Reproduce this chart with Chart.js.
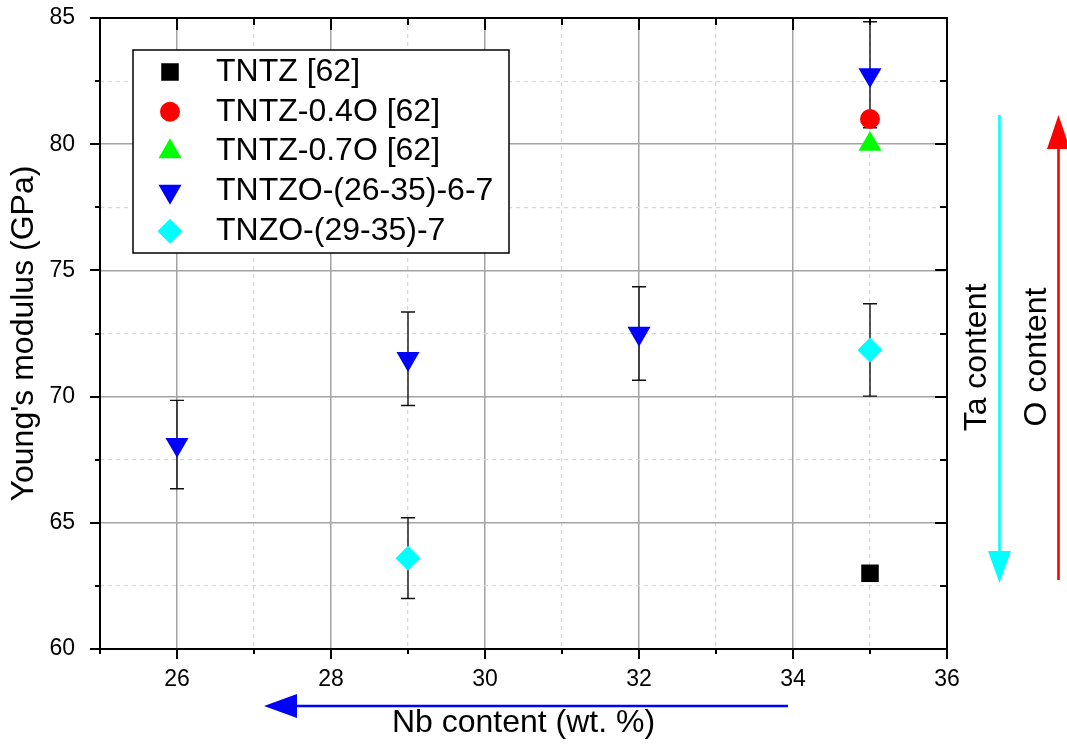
<!DOCTYPE html>
<html>
<head>
<meta charset="utf-8">
<script src="https://cdn.jsdelivr.net/npm/chart.js@4/dist/chart.umd.min.js"></script>
<style>
  html, body { margin: 0; padding: 0; background: #fff; }
  canvas { display: block; }
</style>
</head>
<body>
<canvas id="c" width="1067" height="747"></canvas>
<script>
const FONT = '"Liberation Sans", Arial, Helvetica, sans-serif';

// Axis tick labels
const nbTicks = [26, 28, 30, 32, 34, 36];
const modulusTicks = [60, 65, 70, 75, 80, 85];

// Series (Nb content in wt.%, Young's modulus in GPa, error in GPa)
const seriesNames = ['TNTZ [62]', 'TNTZ-0.4O [62]', 'TNTZ-0.7O [62]', 'TNTZO-(26-35)-6-7', 'TNZO-(29-35)-7'];
const tntzNb = [35];
const tntzE = [63];
const tntz04oNb = [35];
const tntz04oE = [81];
const tntz07oNb = [35];
const tntz07oE = [80];
const tntzoNb = [26, 29, 32, 35];
const tntzoE = [68.1, 71.5, 72.5, 82.75];
const tntzoErr = [1.75, 1.85, 1.85, 2.1];
const tnzoNb = [29, 35];
const tnzoE = [63.6, 71.85];
const tnzoErr = [1.6, 1.83];

const pts = (xs, ys) => xs.map((x, i) => ({ x: x, y: ys[i] }));

function series(label, xs, ys, errs, style, color, radius, rotation) {
  return {
    label: label,
    data: pts(xs, ys),
    errors: errs || null,
    pointStyle: style,
    rotation: rotation || 0,
    pointRadius: radius,
    pointHoverRadius: radius,
    backgroundColor: color,
    borderColor: color,
    borderWidth: 0,
    showLine: false
  };
}

const datasets = [
  series(seriesNames[0], tntzNb, tntzE, null, 'rect', '#000000', 12.4),
  series(seriesNames[1], tntz04oNb, tntz04oE, null, 'circle', '#ff0000', 10),
  series(seriesNames[2], tntz07oNb, tntz07oE, null, 'triangle', '#00ff00', 13.3),
  series(seriesNames[3], tntzoNb, tntzoE, tntzoErr, 'triangle', '#0000ff', 13.3, 180),
  series(seriesNames[4], tnzoNb, tnzoE, tnzoErr, 'rectRot', '#00ffff', 12.5)
];

const isMajor = (scale, v) => scale === 'x' ? nbTicks.includes(v) : modulusTicks.includes(v);

// Error bars drawn beneath the markers
const errorBars = {
  id: 'errorBars',
  beforeDatasetsDraw(chart) {
    const { ctx, scales: { x, y } } = chart;
    ctx.save();
    ctx.strokeStyle = '#111';
    ctx.lineWidth = 1.4;
    chart.data.datasets.forEach(ds => {
      if (!ds.errors) return;
      ds.data.forEach((p, i) => {
        const e = ds.errors[i];
        const px = x.getPixelForValue(p.x);
        const top = y.getPixelForValue(p.y + e);
        const bot = y.getPixelForValue(p.y - e);
        ctx.beginPath();
        ctx.moveTo(px, top); ctx.lineTo(px, bot);
        ctx.moveTo(px - 7, top); ctx.lineTo(px + 7, top);
        ctx.moveTo(px - 7, bot); ctx.lineTo(px + 7, bot);
        ctx.stroke();
      });
    });
    ctx.restore();
  }
};

// Boxed legend inside the plot
const boxLegend = {
  id: 'boxLegend',
  afterDatasetsDraw(chart) {
    const ctx = chart.ctx;
    const left = 133, top = 50, right = 509, bottom = 253;
    ctx.save();
    ctx.fillStyle = '#fff';
    ctx.fillRect(left, top, right - left, bottom - top);
    ctx.strokeStyle = '#000';
    ctx.lineWidth = 1.5;
    ctx.strokeRect(left, top, right - left, bottom - top);
    chart.data.datasets.forEach((ds, i) => {
      const cy = 72 + i * 39.8;
      ctx.fillStyle = ds.backgroundColor;
      ctx.strokeStyle = ds.borderColor;
      Chart.helpers.drawPoint(ctx, {
        pointStyle: ds.pointStyle,
        rotation: ds.rotation,
        radius: ds.pointRadius,
        borderWidth: 0
      }, 170, cy);
      ctx.fillStyle = '#000';
      ctx.font = '32px ' + FONT;
      ctx.textAlign = 'left';
      ctx.textBaseline = 'middle';
      ctx.fillText(ds.label, 216, cy);
    });
    ctx.restore();
  }
};

// Frame with outward ticks on bottom/left and inward ticks on top/right
const frameTicks = {
  id: 'frameTicks',
  afterDraw(chart) {
    const { ctx, chartArea: a, scales: { x, y } } = chart;
    ctx.save();
    ctx.strokeStyle = '#000';
    ctx.lineWidth = 2;
    ctx.strokeRect(a.left, a.top, a.right - a.left, a.bottom - a.top);
    ctx.beginPath();
    x.ticks.forEach(t => {
      const px = Math.round(x.getPixelForValue(t.value));
      const len = isMajor('x', t.value) ? 10 : 5;
      ctx.moveTo(px, a.bottom); ctx.lineTo(px, a.bottom + len);
      ctx.moveTo(px, a.top); ctx.lineTo(px, a.top + len + 2);
    });
    y.ticks.forEach(t => {
      const py = Math.round(y.getPixelForValue(t.value));
      const len = isMajor('y', t.value) ? 10 : 5;
      ctx.moveTo(a.left, py); ctx.lineTo(a.left - len, py);
      ctx.moveTo(a.right, py); ctx.lineTo(a.right - len - 2, py);
    });
    ctx.stroke();

    // Composition trend arrows
    const arrow = (x1, y1, x2, y2, color, headLen, headHalf, width) => {
      const ang = Math.atan2(y2 - y1, x2 - x1);
      const bx = x2 - Math.cos(ang) * headLen, by = y2 - Math.sin(ang) * headLen;
      ctx.strokeStyle = color; ctx.fillStyle = color; ctx.lineWidth = width;
      ctx.beginPath(); ctx.moveTo(x1, y1); ctx.lineTo(bx, by); ctx.stroke();
      ctx.beginPath();
      ctx.moveTo(x2, y2);
      ctx.lineTo(bx + Math.sin(ang) * headHalf, by - Math.cos(ang) * headHalf);
      ctx.lineTo(bx - Math.sin(ang) * headHalf, by + Math.cos(ang) * headHalf);
      ctx.closePath(); ctx.fill();
    };
    arrow(999.5, 115, 999.5, 583, '#00ffff', 32, 11.5, 2.6);
    arrow(1058.5, 580, 1058.5, 115, '#ff0000', 34, 11.5, 2.6);
    arrow(788, 706, 264, 706, '#0000ff', 33, 12, 2.6);

    ctx.fillStyle = '#000';
    ctx.font = '32px ' + FONT;
    ctx.textAlign = 'center';
    ctx.textBaseline = 'middle';
    const vtext = (txt, cx, cy) => {
      ctx.save(); ctx.translate(cx, cy); ctx.rotate(-Math.PI / 2);
      ctx.fillText(txt, 0, 0); ctx.restore();
    };
    vtext('Ta content', 977, 357.5);
    vtext('O content', 1037, 357);
    ctx.restore();
  }
};

const gridColor = (axis) => (c) => (c.tick && isMajor(axis, c.tick.value)) ? '#a3a3a3' : '#d6d6d6';
const gridWidth = (axis) => (c) => (c.tick && isMajor(axis, c.tick.value)) ? 1.5 : 1.2;
const gridDash = (axis) => (c) => (c.tick && !isMajor(axis, c.tick.value)) ? [4, 4] : [];

new Chart(document.getElementById('c'), {
  type: 'scatter',
  data: { datasets: datasets },
  options: {
    responsive: false,
    animation: false,
    devicePixelRatio: 1,
    layout: { padding: { top: 18, right: 120, left: 0, bottom: 0 } },
    plugins: { legend: { display: false }, tooltip: { enabled: false } },
    scales: {
      x: {
        type: 'linear',
        min: 25, max: 36,
        afterFit: s => { s.height = 98; s.paddingLeft = 0; s.paddingRight = 0; },
        ticks: {
          stepSize: 1, autoSkip: false, maxRotation: 0, padding: 17,
          color: '#000', font: { family: FONT, size: 23 },
          callback: v => nbTicks.includes(v) ? String(v) : ''
        },
        grid: { drawTicks: false, color: gridColor('x'), lineWidth: gridWidth('x') },
        border: { display: false, dash: gridDash('x') },
        title: {
          display: true, text: 'Nb content (wt. %)', color: '#000',
          font: { family: FONT, size: 32 }, padding: { top: 0, bottom: 4.5 }
        }
      },
      y: {
        type: 'linear',
        min: 60, max: 85,
        afterFit: s => { s.width = 100; s.paddingTop = 0; s.paddingBottom = 0; },
        ticks: {
          stepSize: 2.5, autoSkip: false, padding: 25,
          color: '#000', font: { family: FONT, size: 23 },
          callback: v => modulusTicks.includes(v) ? String(v) : ''
        },
        grid: { drawTicks: false, color: gridColor('y'), lineWidth: gridWidth('y') },
        border: { display: false, dash: gridDash('y') },
        title: {
          display: true, text: "Young's modulus (GPa)", color: '#000',
          font: { family: FONT, size: 32 }, padding: { top: 5, bottom: 0 }
        }
      }
    }
  },
  plugins: [errorBars, boxLegend, frameTicks]
});
</script>
</body>
</html>
